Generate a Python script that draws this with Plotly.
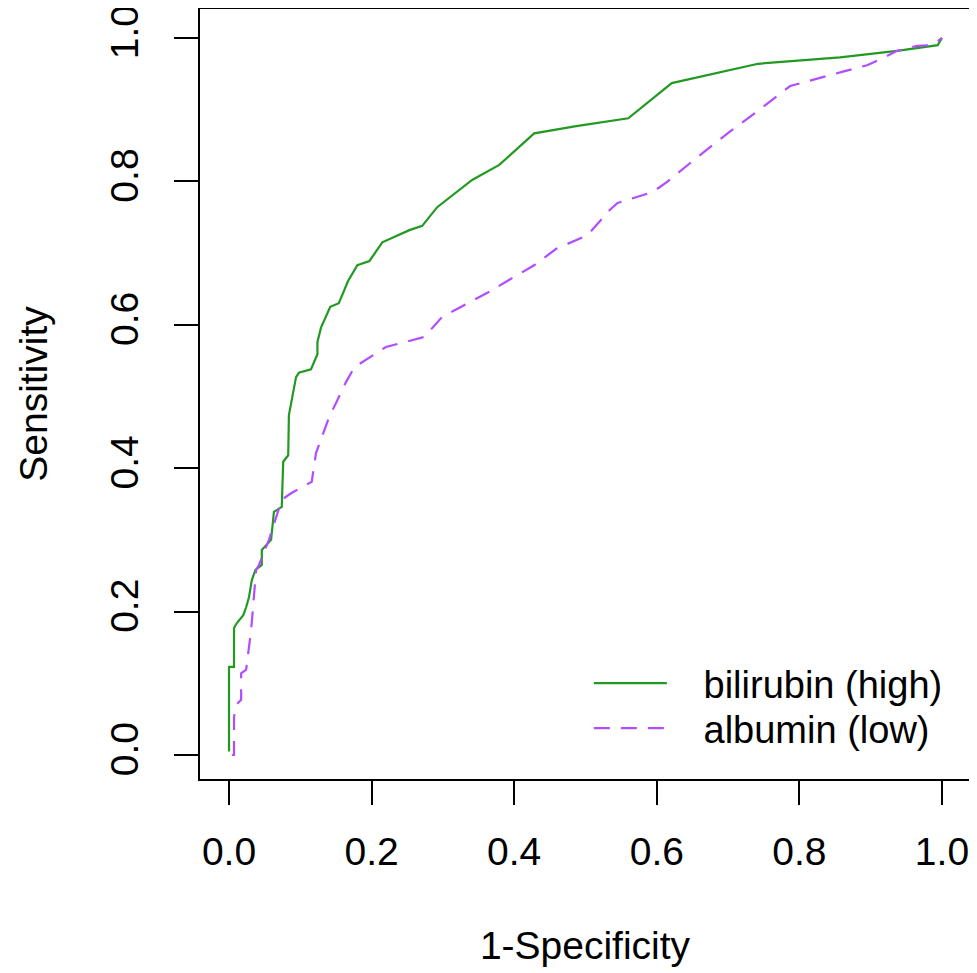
import plotly.graph_objects as go

# ROC curve points (1-Specificity, Sensitivity)
bilirubin_fpr = [0.0, 0.0, 0.007, 0.007, 0.011, 0.020, 0.024, 0.028, 0.032, 0.037,
                 0.046, 0.046, 0.059, 0.063, 0.074, 0.076, 0.083, 0.084, 0.094, 0.098,
                 0.115, 0.124, 0.124, 0.129, 0.142, 0.154, 0.167, 0.180, 0.197, 0.215,
                 0.253, 0.271, 0.292, 0.341, 0.379, 0.428, 0.487, 0.560, 0.621, 0.742,
                 0.857, 0.937, 0.994, 1.0]
bilirubin_tpr = [0.005, 0.123, 0.123, 0.177, 0.184, 0.195, 0.206, 0.220, 0.244, 0.258,
                 0.265, 0.286, 0.300, 0.339, 0.346, 0.409, 0.418, 0.474, 0.527, 0.533,
                 0.538, 0.559, 0.576, 0.596, 0.625, 0.630, 0.661, 0.683, 0.689, 0.715,
                 0.732, 0.738, 0.764, 0.802, 0.823, 0.867, 0.877, 0.888, 0.937, 0.964,
                 0.973, 0.982, 0.990, 1.0]

albumin_fpr = [0.004, 0.007, 0.007, 0.010, 0.017, 0.017, 0.024, 0.031, 0.038, 0.042,
               0.056, 0.074, 0.087, 0.116, 0.122, 0.140, 0.164, 0.176, 0.220, 0.274,
               0.299, 0.365, 0.397, 0.428, 0.459, 0.503, 0.534, 0.545, 0.594, 0.614,
               0.656, 0.702, 0.744, 0.787, 0.861, 0.895, 0.917, 0.937, 0.965, 0.987, 1.0]
albumin_tpr = [0.0, 0.0, 0.053, 0.070, 0.077, 0.114, 0.119, 0.174, 0.258, 0.265,
               0.300, 0.356, 0.365, 0.381, 0.421, 0.470, 0.520, 0.541, 0.569, 0.583,
               0.611, 0.646, 0.665, 0.683, 0.706, 0.725, 0.760, 0.770, 0.785, 0.799,
               0.833, 0.869, 0.900, 0.933, 0.953, 0.962, 0.972, 0.982, 0.989, 0.990, 1.0]

series_names = ["bilirubin (high)", "albumin (low)"]
tick_vals = [0.0, 0.2, 0.4, 0.6, 0.8, 1.0]
tick_text = ["0.0", "0.2", "0.4", "0.6", "0.8", "1.0"]

FONT = "Liberation Sans, Arial, Helvetica, sans-serif"
FS = 39
PAD = "\u00a0\u00a0\u00a0"

fig = go.Figure()
fig.add_trace(go.Scatter(x=bilirubin_fpr, y=bilirubin_tpr, mode="lines",
                         name=PAD + series_names[0], legend="legend",
                         line=dict(color="#229922", width=2.2)))
fig.add_trace(go.Scatter(x=albumin_fpr, y=albumin_tpr, mode="lines",
                         name=PAD + series_names[1], legend="legend2",
                         line=dict(color="#B24CFF", width=2.2, dash="16px,11px")))

axis_common = dict(
    showgrid=False, zeroline=False, automargin=False,
    showline=True, linecolor="black", linewidth=2, mirror=True,
    ticks="outside", ticklen=24, tickwidth=2, tickcolor="black",
    tickvals=tick_vals, ticktext=tick_text, ticklabeloverflow="allow",
    tickfont=dict(family=FONT, size=FS, color="black"),
)

legend_common = dict(xanchor="left", yanchor="top",
                     bgcolor="rgba(0,0,0,0)", borderwidth=0,
                     font=dict(family=FONT, size=38, color="black"),
                     itemwidth=73)

# the page body adds an 8px offset, so the figure is sized to fit the window
fig.update_layout(
    width=969, height=965,
    margin=dict(l=192, r=7, t=1, b=194),
    paper_bgcolor="white", plot_bgcolor="white",
    font=dict(family=FONT, size=FS, color="black"),
    xaxis=dict(range=[-0.0407, 1.0393], ticklabelstandoff=13,
               title=dict(text="1-Specificity", font=dict(family=FONT, size=FS), standoff=60),
               **axis_common),
    yaxis=dict(range=[-0.0335, 1.0404], tickangle=-90, ticklabelstandoff=20,
               title=dict(text="Sensitivity", font=dict(family=FONT, size=FS), standoff=44),
               **axis_common),
    legend=dict(x=0.505, y=0.165, **legend_common),
    legend2=dict(x=0.505, y=0.1066, **legend_common),
    showlegend=True,
)

fig.write_html("out.html")
